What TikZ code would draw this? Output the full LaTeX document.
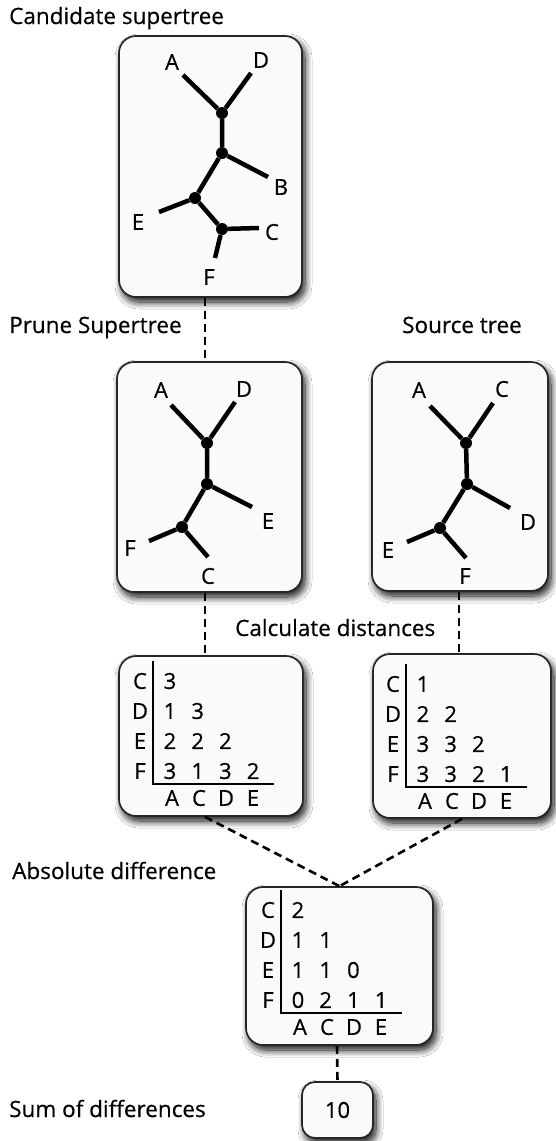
\documentclass[tikz,border=0pt]{standalone}
\usepackage{fontspec}
\setmainfont{Open Sans}[FakeBold=0.5]
\usetikzlibrary{shadows.blur}
\newcommand\disttab[4]{%
  \coordinate (#1top) at (#2,#3-123);
  \coordinate (#1corner) at (#2,#3);
  \coordinate (#1end) at (#2+121,#3);
  \draw[rule] (#1top) -- (#1corner) -- (#1end);
  \foreach \r/\l in {1/C,2/D,3/E,4/F}
    \node[tab] (#1row\r) at (#2-13, 30*\r+#3-133) {\l};
  \foreach \c/\l in {1/A,2/C,3/D,4/E}
    \node[tab] (#1col\c) at (27*\c+#2-8, #3+14) {\l};
  \foreach \c/\r/\v in {#4}
    \node[tab] (#1v\c\r) at (27.7*\c+#2-10.7, 30*\r+#3-133) {\v};
}
\begin{document}
\begin{tikzpicture}[x=1pt,y=-1pt,
  box/.style={draw=black!85, line width=1.7pt, fill=black!2, rounded corners=17pt, inner sep=0pt,
     blur shadow={shadow xshift=3pt, shadow yshift=-5pt, shadow blur radius=7pt, shadow blur steps=12, shadow opacity=95}},
  lbl/.style={anchor=base west, inner sep=0pt, font=\fontsize{22.5}{26}\selectfont},
  leaf/.style={inner sep=0pt, font=\fontsize{22}{26}\selectfont},
  tab/.style={inner sep=0pt, font=\fontsize{22}{26}\selectfont},
  knot/.style={circle, fill=black, inner sep=0pt, minimum size=12pt},
  branch/.style={line width=4.5pt},
  conn/.style={line width=2.6pt, dash pattern=on 8pt off 5pt},
  rule/.style={line width=1.4pt},
]
\fill[white] (0,0) rectangle (555,1141);
\useasboundingbox (0,0) rectangle (555,1141);

% labels
\node[lbl] (tcand) at (9,24) {Candidate supertree};
\node[lbl] (tprune) at (9,333) {Prune Supertree};
\node[lbl] (tsource) at (402,333) {Source tree};
\node[lbl] (tcalc) at (235,636) {Calculate distances};
\node[lbl] (tabs) at (12,879) {Absolute difference};
\node[lbl] (tsum) at (9,1117) {Sum of differences};

% boxes
\node[box, minimum width=183pt, minimum height=261pt] (b1) at (210.5,166.5) {};
\node[box, minimum width=185pt, minimum height=230pt] (b2) at (209.5,477) {};
\node[box, minimum width=176pt, minimum height=229pt] (b3) at (460,476.5) {};
\node[box, minimum width=184pt, minimum height=160pt] (b4) at (211,736) {};
\node[box, minimum width=178pt, minimum height=164pt] (b5) at (462,736) {};
\node[box, minimum width=187pt, minimum height=158pt] (b6) at (339.5,966) {};
\node[box, rounded corners=13pt, minimum width=71pt, minimum height=56pt, font=\fontsize{22}{26}\selectfont] (b7) at (337.5,1110) {10};

% connectors
\draw[conn] ([xshift=-5.5pt]b1.south) -- ([xshift=-4.5pt]b2.north);
\draw[conn] ([xshift=-4.5pt]b2.south) -- ([xshift=-6pt]b4.north);
\draw[conn] ([xshift=-1pt]b3.south) -- ([xshift=-3pt]b5.north);
\draw[conn] ([xshift=-6pt]b4.south) -- (b6.north);
\draw[conn] (b5.south) -- (b6.north);
\draw[conn] ([xshift=-2.5pt]b6.south) -- (b7.north);

% tree 1
\node[knot] (p1) at (222,113) {};
\node[knot] (p2) at (222,153) {};
\node[knot] (p3) at (195,198) {};
\node[knot] (p4) at (222,229) {};
\coordinate (pA) at (183,75);
\coordinate (pD) at (251,73);
\coordinate (pB) at (268,177);
\coordinate (pE) at (159,212);
\coordinate (pC) at (259,228);
\coordinate (pF) at (215,258);
\draw[branch] (pA) -- (p1) -- (pD);
\draw[branch] (p1) -- (p2) -- (pB);
\draw[branch] (p2) -- (p3) -- (pE);
\draw[branch] (p3) -- (p4) -- (pC);
\draw[branch] (p4) -- (pF);
\node[leaf] (pAl) at (172,62) {A};
\node[leaf] (pDl) at (261,60) {D};
\node[leaf] (pBl) at (281,187) {B};
\node[leaf] (pEl) at (138,222) {E};
\node[leaf] (pCl) at (272,232) {C};
\node[leaf] (pFl) at (209,277) {F};

% tree 2
\node[knot] (q1) at (207,443) {};
\node[knot] (q2) at (207,484) {};
\node[knot] (q3) at (182,527) {};
\coordinate (qA) at (171,405);
\coordinate (qD) at (235,402);
\coordinate (qE) at (252,507);
\coordinate (qF) at (149,541);
\coordinate (qC) at (208,557);
\draw[branch] (qA) -- (q1) -- (qD);
\draw[branch] (q1) -- (q2) -- (qE);
\draw[branch] (q2) -- (q3) -- (qF);
\draw[branch] (q3) -- (qC);
\node[leaf] (qAl) at (161,390) {A};
\node[leaf] (qDl) at (244,389) {D};
\node[leaf] (qEl) at (268,521) {E};
\node[leaf] (qFl) at (130,548) {F};
\node[leaf] (qCl) at (208,576) {C};

% tree 3
\node[knot] (s1) at (466,443) {};
\node[knot] (s2) at (467,484) {};
\node[knot] (s3) at (440,528) {};
\coordinate (sA) at (430,406);
\coordinate (sC) at (493,403);
\coordinate (sD) at (510,508);
\coordinate (sE) at (407,542);
\coordinate (sF) at (466,558);
\draw[branch] (sA) -- (s1) -- (sC);
\draw[branch] (s1) -- (s2) -- (sD);
\draw[branch] (s2) -- (s3) -- (sE);
\draw[branch] (s3) -- (sF);
\node[leaf] (sAl) at (419,390) {A};
\node[leaf] (sCl) at (502,389) {C};
\node[leaf] (sDl) at (528,522) {D};
\node[leaf] (sEl) at (388,550) {E};
\node[leaf] (sFl) at (465,576) {F};

% tables
\disttab{u}{153}{784}{1/1/3, 1/2/1, 2/2/3, 1/3/2, 2/3/2, 3/3/2, 1/4/3, 2/4/1, 3/4/3, 4/4/2}
\disttab{w}{406}{787}{1/1/1, 1/2/2, 2/2/2, 1/3/3, 2/3/3, 3/3/2, 1/4/3, 2/4/3, 3/4/2, 4/4/1}
\disttab{z}{281}{1013}{1/1/2, 1/2/1, 2/2/1, 1/3/1, 2/3/1, 3/3/0, 1/4/0, 2/4/2, 3/4/1, 4/4/1}
\end{tikzpicture}
\end{document}
